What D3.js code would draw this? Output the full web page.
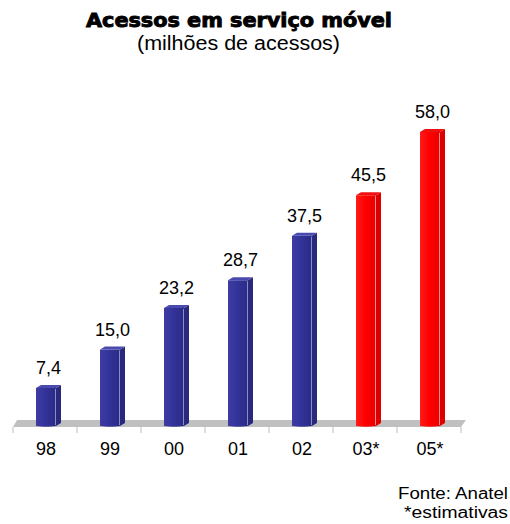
<!DOCTYPE html>
<html>
<head>
<meta charset="utf-8">
<script src="https://cdn.jsdelivr.net/npm/d3@7"></script>
<style>
  html, body { margin: 0; padding: 0; background: #fff; }
  svg { display: block; }
</style>
</head>
<body>
<svg id="chart" width="510" height="524"></svg>
<script>
// Mobile service accesses, in millions (03* and 05* are estimates)
const categories = ["98", "99", "00", "01", "02", "03*", "05*"];
const values = [7.4, 15.0, 23.2, 28.7, 37.5, 45.5, 58.0];
const estimated = [false, false, false, false, false, true, true];

const titleText = "Acessos em serviço móvel";
const subtitleText = "(milhões de acessos)";
const footerLines = ["Fonte: Anatel", "*estimativas"];
const footerWidths = [110, 104];

const svg = d3.select("#chart");
const ptBR = d3.formatLocale({ decimal: ",", thousands: ".", grouping: [3], currency: ["R$", ""] });
const fmt = ptBR.format(".1f");

const x = d3.scaleBand().domain(categories).range([13, 461]).padding(0);
const y = d3.scaleLinear().domain([0, 60]).range([422.4, 118.8]);
const base = 426;

// colour sets for actual vs estimated bars
const palettes = {
  actual:   { id: "gBlue", light: "#3c3ca2", mid: "#333399", dark: "#2a2a86", edge: "#8c8cc8", side: "#29297c", top: "#4a4aae" },
  estimate: { id: "gRed",  light: "#ff1c1c", mid: "#ff0000", dark: "#e80000", edge: "#ff8c8c", side: "#dc0000", top: "#ee1010" }
};

const defs = svg.append("defs");
Object.values(palettes).forEach(p => {
  const g = defs.append("linearGradient").attr("id", p.id).attr("x1", 0).attr("x2", 1).attr("y1", 0).attr("y2", 0);
  g.append("stop").attr("offset", "0%").attr("stop-color", p.light);
  g.append("stop").attr("offset", "45%").attr("stop-color", p.mid);
  g.append("stop").attr("offset", "100%").attr("stop-color", p.dark);
});

// Title block
svg.append("text")
  .attr("x", 239).attr("y", 27)
  .attr("text-anchor", "middle")
  .attr("font-family", "'DejaVu Sans', sans-serif")
  .attr("font-weight", "bold")
  .attr("font-size", 19)
  .attr("stroke", "#000")
  .attr("stroke-width", 0.9)
  .attr("textLength", 306)
  .attr("lengthAdjust", "spacingAndGlyphs")
  .text(titleText);

svg.append("text")
  .attr("x", 238.5).attr("y", 50)
  .attr("text-anchor", "middle")
  .attr("font-family", "'Liberation Sans', Arial, sans-serif")
  .attr("font-size", 20)
  .attr("textLength", 203)
  .attr("lengthAdjust", "spacingAndGlyphs")
  .text(subtitleText);

// Floor plane
const x0 = x.range()[0], x1 = x.range()[1];
svg.append("path")
  .attr("d", `M${x0},427 L${x0 + 4},420 L${x1 + 5},420 L${x1},427 Z`)
  .attr("fill", "#c0c0c0");

// Tick marks at category boundaries
const edges = categories.map(c => x(c)).concat([x1]);
svg.append("g").selectAll("line")
  .data(edges).join("line")
  .attr("x1", d => d).attr("x2", d => d)
  .attr("y1", 427).attr("y2", 433)
  .attr("stroke", "#bdbdbd").attr("stroke-width", 1);

// Category labels
const axis = d3.axisBottom(x).tickSize(0).tickPadding(0);
const axisG = svg.append("g").attr("transform", "translate(1,0)").call(axis);
axisG.select(".domain").remove();
axisG.selectAll("text")
  .attr("y", 455).attr("dy", null)
  .attr("font-family", "'Liberation Sans', Arial, sans-serif")
  .attr("font-size", 18)
  .attr("fill", "#000");

// 3D bars
const data = categories.map((c, i) => ({ c, v: values[i], p: estimated[i] ? palettes.estimate : palettes.actual }));
const bars = svg.append("g").selectAll("g").data(data).join("g");

bars.each(function (d) {
  const g = d3.select(this);
  const cx = x(d.c) + x.bandwidth() / 2;
  const fx0 = cx - 9, fx1 = cx + 11, depth = 5, rise = 3;
  const yt = y(d.v), yf = yt + rise;
  // side face
  g.append("path")
    .attr("d", `M${fx1},${yf} L${fx1 + depth},${yt} L${fx1 + depth},${base - rise} L${fx1},${base} Z`)
    .attr("fill", d.p.side);
  // front face
  g.append("path")
    .attr("d", `M${fx0},${yf} L${fx1},${yf} L${fx1},${base} Q${(fx0 + fx1) / 2},${base + 1.5} ${fx0},${base} Z`)
    .attr("fill", `url(#${d.p.id})`);
  // edge highlight between front and side
  g.append("line")
    .attr("x1", fx1 - 0.5).attr("x2", fx1 - 0.5)
    .attr("y1", yf + 1).attr("y2", base - 1)
    .attr("stroke", d.p.edge).attr("stroke-width", 1);
  // top face
  g.append("path")
    .attr("d", `M${fx0},${yf} L${fx0 + depth},${yt} L${fx1 + depth},${yt} L${fx1},${yf} Z`)
    .attr("fill", d.p.top);
});

// Value labels
bars.append("text")
  .attr("x", d => x(d.c) + x.bandwidth() / 2 + 3.5)
  .attr("y", d => y(d.v) - 11)
  .attr("text-anchor", "middle")
  .attr("font-family", "'Liberation Sans', Arial, sans-serif")
  .attr("font-size", 18)
  .attr("fill", "#000")
  .text(d => fmt(d.v));

// Source note
svg.append("g").selectAll("text")
  .data(footerLines).join("text")
  .attr("x", 508)
  .attr("y", (d, i) => 499 + i * 19)
  .attr("text-anchor", "end")
  .attr("font-family", "'Liberation Sans', Arial, sans-serif")
  .attr("font-size", 16)
  .attr("textLength", (d, i) => footerWidths[i])
  .attr("lengthAdjust", "spacingAndGlyphs")
  .attr("fill", "#000")
  .text(d => d);
</script>
</body>
</html>
